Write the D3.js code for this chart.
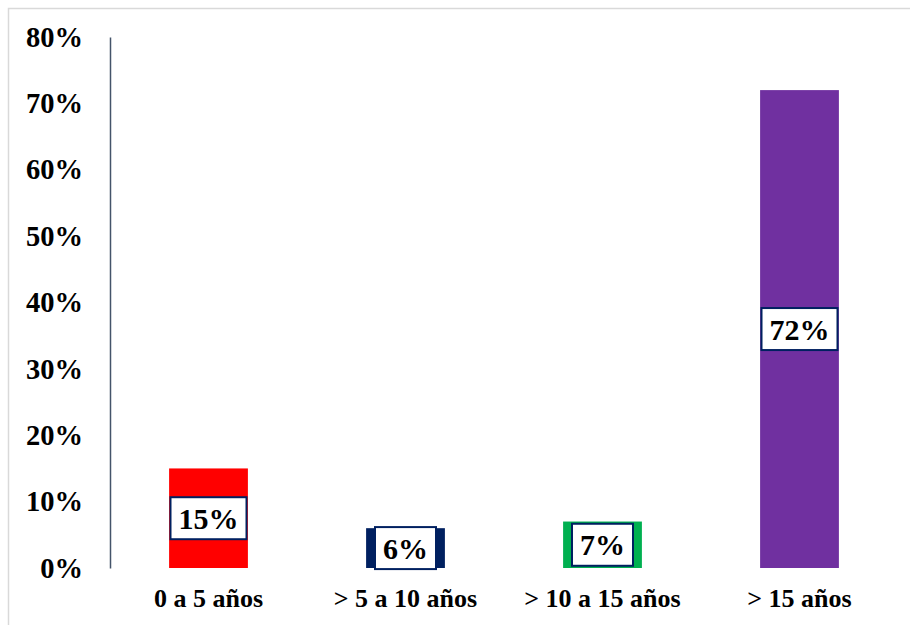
<html>
<head>
<meta charset="utf-8">
<script src="https://d3js.org/d3.v7.min.js"></script>
<style>
  body { margin: 0; background: #fff; }
  text { font-family: "Liberation Serif", "Times New Roman", serif; font-weight: bold; }
</style>
</head>
<body>
<svg id="chart" width="910" height="625"></svg>
<script>
const categories = ["0 a 5 años", "> 5 a 10 años", "> 10 a 15 años", "> 15 años"];
const values = [0.15, 0.06, 0.07, 0.72];
const colors = ["#ff0000", "#002060", "#00b050", "#7030a0"];
const tickValues = [0, 0.1, 0.2, 0.3, 0.4, 0.5, 0.6, 0.7, 0.8];

const svg = d3.select("svg#chart");

// chart frame
svg.append("rect")
  .attr("x", 8.5).attr("y", 8.5)
  .attr("width", 910).attr("height", 630)
  .attr("fill", "none")
  .attr("stroke", "#d9d9d9")
  .attr("stroke-width", 1.5);

const x = d3.scaleBand().domain(categories).range([110, 898])
  .paddingInner(0.6).paddingOuter(0.3);
const y = d3.scaleLinear().domain([0, 0.8]).range([568, 37]);

// y axis
const yAxis = svg.append("g").attr("transform", "translate(110,0)")
  .call(d3.axisLeft(y).tickValues(tickValues).tickSize(0).tickPadding(27).tickFormat(d3.format(".0%")));
yAxis.select(".domain").attr("stroke", "#44546a").attr("stroke-width", 1.5);
yAxis.selectAll("text").attr("font-size", 28.5).attr("fill", "#000")
  .attr("font-family", "Liberation Serif, Times New Roman, serif").attr("font-weight", "bold");

// bars
svg.selectAll("rect.bar").data(values).enter().append("rect")
  .attr("class", "bar")
  .attr("x", (d, i) => x(categories[i]))
  .attr("y", d => y(d))
  .attr("width", x.bandwidth())
  .attr("height", d => y(0) - y(d))
  .attr("fill", (d, i) => colors[i]);

// category labels
svg.selectAll("text.cat").data(categories).enter().append("text")
  .attr("class", "cat")
  .attr("x", d => x(d) + x.bandwidth() / 2)
  .attr("y", 607)
  .attr("text-anchor", "middle")
  .attr("font-size", 26)
  .text(d => d);

// value labels with boxes
const fmt = d3.format(".0%");
values.forEach((v, i) => {
  const cx = x(categories[i]) + x.bandwidth() / 2;
  const cy = (y(v) + y(0)) / 2;
  const g = svg.append("g");
  const t = g.append("text")
    .attr("x", cx).attr("y", cy)
    .attr("text-anchor", "middle")
    .attr("dominant-baseline", "central")
    .attr("font-size", 30)
    .text(fmt(v));
  const bb = t.node().getBBox();
  g.insert("rect", "text")
    .attr("x", bb.x - 8).attr("y", cy - 21)
    .attr("width", bb.width + 16).attr("height", 42)
    .attr("fill", "#fff")
    .attr("stroke", "#002060")
    .attr("stroke-width", 2);
});
</script>
</body>
</html>
